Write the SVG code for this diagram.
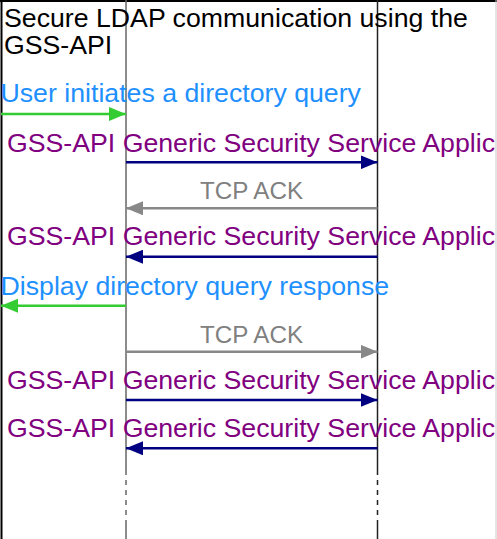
<svg xmlns="http://www.w3.org/2000/svg" width="497" height="539" viewBox="0 0 497 539">
<defs>
<style>
text{font-family:"Liberation Sans",Arial,sans-serif;font-size:26.7px}
.title{fill:#000}
.note{fill:#1e90ff}
.gss{fill:#800080}
.ack{fill:#808080;font-size:24.2px}
.m-green{stroke:#33cc33;stroke-width:2.5;fill:none}
.m-navy{stroke:#000080;stroke-width:2.5;fill:none}
.m-grey{stroke:#888888;stroke-width:2.5;fill:none}
.dash{stroke-dasharray:5 5}
</style>
<marker id="ah-green" markerUnits="userSpaceOnUse" markerWidth="17" markerHeight="14" refX="17" refY="7" orient="auto"><path d="M0,0 L17,7 L0,14 z" fill="#33cc33"/></marker>
<marker id="ah-navy" markerUnits="userSpaceOnUse" markerWidth="17" markerHeight="14" refX="17" refY="7" orient="auto"><path d="M0,0 L17,7 L0,14 z" fill="#000080"/></marker>
<marker id="ah-grey" markerUnits="userSpaceOnUse" markerWidth="17" markerHeight="14" refX="17" refY="7" orient="auto"><path d="M0,0 L17,7 L0,14 z" fill="#888888"/></marker>
</defs>
<rect x="0" y="0" width="497" height="539" fill="#ffffff"/>
<g id="frame">
<line x1="0" y1="1" x2="497" y2="1" stroke="#000" stroke-width="2"/>
<line x1="496" y1="0" x2="496" y2="539" stroke="#c8c8c8" stroke-width="1"/>
</g>
<g id="lifeline-user">
<line x1="1.5" y1="0" x2="1.5" y2="539" stroke="#000" stroke-width="2"/>
</g>
<g id="lifeline-client">
<line x1="126" y1="0" x2="126" y2="470" stroke="#666" stroke-width="1.5"/>
<line x1="126" y1="470" x2="126" y2="522" stroke="#666" stroke-width="1.5" class="dash"/>
<line x1="126" y1="522" x2="126" y2="539" stroke="#666" stroke-width="1.5"/>
</g>
<g id="lifeline-server">
<line x1="377.5" y1="0" x2="377.5" y2="470" stroke="#222" stroke-width="1.5"/>
<line x1="377.5" y1="470" x2="377.5" y2="522" stroke="#222" stroke-width="1.5" class="dash"/>
<line x1="377.5" y1="522" x2="377.5" y2="539" stroke="#222" stroke-width="1.5"/>
</g>
<g id="title">
<text class="title" x="4" y="27">Secure LDAP communication using the</text>
<text class="title" x="4" y="53.5">GSS-API</text>
</g>
<g id="connectors">
<text class="note" x="0.5" y="102">User initiates a directory query</text>
<line class="m-green" x1="1" y1="114" x2="126" y2="114" marker-end="url(#ah-green)"/>
<text class="gss" x="7" y="151.5">GSS-API Generic Security Service Applic</text>
<line class="m-navy" x1="126" y1="162.3" x2="377.5" y2="162.3" marker-end="url(#ah-navy)"/>
<text class="ack" x="251.5" y="199.3" text-anchor="middle">TCP ACK</text>
<line class="m-grey" x1="377.5" y1="208.3" x2="126" y2="208.3" marker-end="url(#ah-grey)"/>
<text class="gss" x="7" y="245">GSS-API Generic Security Service Applic</text>
<line class="m-navy" x1="377.5" y1="256.7" x2="126" y2="256.7" marker-end="url(#ah-navy)"/>
<text class="note" x="0.5" y="294.5">Display directory query response</text>
<line class="m-green" x1="126" y1="305.7" x2="1" y2="305.7" marker-end="url(#ah-green)"/>
<text class="ack" x="251.5" y="342.5" text-anchor="middle">TCP ACK</text>
<line class="m-grey" x1="126" y1="351.7" x2="377.5" y2="351.7" marker-end="url(#ah-grey)"/>
<text class="gss" x="7" y="389.3">GSS-API Generic Security Service Applic</text>
<line class="m-navy" x1="126" y1="400" x2="377.5" y2="400" marker-end="url(#ah-navy)"/>
<text class="gss" x="7" y="437.3">GSS-API Generic Security Service Applic</text>
<line class="m-navy" x1="377.5" y1="448.3" x2="126" y2="448.3" marker-end="url(#ah-navy)"/>
</g>
</svg>
